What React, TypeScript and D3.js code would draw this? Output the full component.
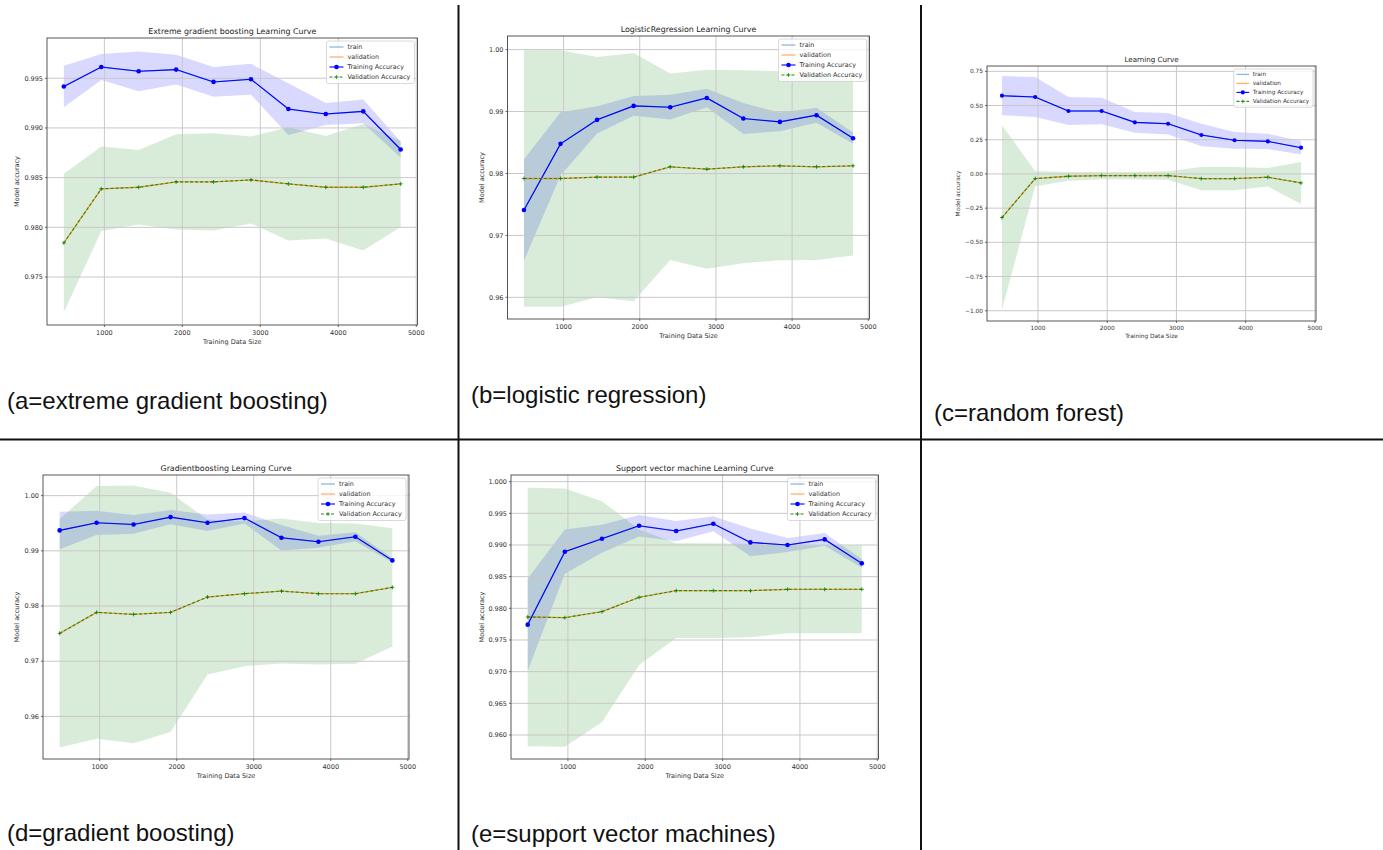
import React from 'react';
import * as d3 from 'd3';

const W = 1383;
const H = 850;
const FONT = 'DejaVu Sans, sans-serif';

const trainSizes = [480, 960, 1440, 1920, 2400, 2880, 3360, 3840, 4320, 4800];
const xTicks = [1000, 2000, 3000, 4000, 5000];

// (a) extreme gradient boosting
const xgbTrainMean = [0.99417, 0.99613, 0.9957, 0.99587, 0.99463, 0.9949, 0.9919, 0.9914, 0.99167, 0.98783];
const xgbTrainStd = [0.0021, 0.0013, 0.002, 0.0015, 0.0015, 0.00155, 0.0026, 0.0011, 0.0012, 0.0008];
const xgbValMean = [0.97843, 0.98387, 0.98403, 0.98457, 0.98457, 0.98477, 0.98437, 0.98403, 0.98403, 0.98437];
const xgbValStd = [0.00697, 0.00425, 0.00375, 0.0048, 0.0049, 0.00438, 0.0057, 0.00515, 0.00637, 0.00435];
const xgbTicks = [0.975, 0.98, 0.985, 0.99, 0.995];

// (b) logistic regression
const lrTrainMean = [0.97409, 0.98478, 0.98866, 0.99091, 0.9907, 0.9922, 0.98887, 0.98833, 0.98941, 0.9857];
const lrTrainStd = [0.0082, 0.0051, 0.0022, 0.0016, 0.002, 0.0015, 0.0025, 0.0015, 0.0012, 0.0009];
const lrValMean = [0.97919, 0.97919, 0.97941, 0.97941, 0.98108, 0.9807, 0.98108, 0.98124, 0.98108, 0.98124];
const lrValStd = [0.0207, 0.0207, 0.0194, 0.02005, 0.01505, 0.01607, 0.01559, 0.01526, 0.01505, 0.0145];
const lrTicks = [0.96, 0.97, 0.98, 0.99, 1.0];

// (c) random forest
const rfTrainMean = [0.572, 0.562, 0.46, 0.46, 0.377, 0.367, 0.285, 0.246, 0.238, 0.192];
const rfTrainStd = [0.143, 0.146, 0.102, 0.097, 0.076, 0.078, 0.082, 0.061, 0.056, 0.049];
const rfValMean = [-0.319, -0.034, -0.017, -0.012, -0.012, -0.012, -0.034, -0.034, -0.024, -0.066];
const rfValStd = [0.674, 0.056, 0.032, 0.027, 0.027, 0.031, 0.085, 0.085, 0.068, 0.154];
const rfTicks = [-1.0, -0.75, -0.5, -0.25, 0.0, 0.25, 0.5, 0.75];

// (d) gradient boosting
const gbTrainMean = [0.9937, 0.99508, 0.99478, 0.99611, 0.99508, 0.99593, 0.99237, 0.99164, 0.99255, 0.98827];
const gbTrainStd = [0.0034, 0.0022, 0.0017, 0.0013, 0.0015, 0.001, 0.0023, 0.0011, 0.0008, 0.0004];
const gbValMean = [0.97505, 0.97885, 0.97849, 0.97885, 0.98163, 0.98223, 0.98271, 0.98223, 0.98223, 0.98338];
const gbValStd = [0.0207, 0.0229, 0.02335, 0.02166, 0.01403, 0.01313, 0.01313, 0.01282, 0.0127, 0.01071];
const gbTicks = [0.96, 0.97, 0.98, 0.99, 1.0];

// (e) support vector machine
const svmTrainMean = [0.97742, 0.98894, 0.99099, 0.99304, 0.9922, 0.99335, 0.99041, 0.98999, 0.99088, 0.9871];
const svmTrainStd = [0.0073, 0.0035, 0.0022, 0.0017, 0.0016, 0.0012, 0.0022, 0.0011, 0.001, 0.0007];
const svmValMean = [0.97863, 0.97853, 0.97947, 0.98174, 0.98279, 0.98279, 0.98279, 0.983, 0.983, 0.983];
const svmValStd = [0.0204, 0.0204, 0.01745, 0.0107, 0.00747, 0.00747, 0.00736, 0.00694, 0.00694, 0.00694];
const svmTicks = [0.96, 0.965, 0.97, 0.975, 0.98, 0.985, 0.99, 0.995, 1.0];

const legendLabels = ['train', 'validation', 'Training Accuracy', 'Validation Accuracy'];

const panels = [
  {
    id: 'a', title: 'Extreme gradient boosting Learning Curve',
    box: [47, 38, 417.5, 325], yDomain: [0.97017, 0.99905], fmt: '.3f', s: 1,
    trainMean: xgbTrainMean, trainStd: xgbTrainStd, valMean: xgbValMean, valStd: xgbValStd, ticks: xgbTicks,
    ylabX: 17,
  },
  {
    id: 'b', title: 'LogisticRegression Learning Curve',
    box: [507.5, 36, 869.5, 319], yDomain: [0.9565, 1.0022], fmt: '.2f', s: 1,
    trainMean: lrTrainMean, trainStd: lrTrainStd, valMean: lrValMean, valStd: lrValStd, ticks: lrTicks,
    ylabX: 482,
  },
  {
    id: 'c', title: 'Learning Curve',
    box: [987, 66, 1316, 321], yDomain: [-1.075, 0.789], fmt: '.2f', s: 0.9,
    trainMean: rfTrainMean, trainStd: rfTrainStd, valMean: rfValMean, valStd: rfValStd, ticks: rfTicks,
    ylabX: 958,
  },
  {
    id: 'd', title: 'Gradientboosting Learning Curve',
    box: [43, 475, 409, 759], yDomain: [0.95228, 1.00374], fmt: '.2f', s: 1,
    trainMean: gbTrainMean, trainStd: gbTrainStd, valMean: gbValMean, valStd: gbValStd, ticks: gbTicks,
    ylabX: 17,
  },
  {
    id: 'e', title: 'Support vector machine Learning Curve',
    box: [511, 475, 878.5, 759], yDomain: [0.95621, 1.00105], fmt: '.3f', s: 1,
    trainMean: svmTrainMean, trainStd: svmTrainStd, valMean: svmValMean, valStd: svmValStd, ticks: svmTicks,
    ylabX: 482,
  },
];

const captions = [
  { text: '(a=extreme gradient boosting)', x: 7, y: 409 },
  { text: '(b=logistic regression)', x: 471, y: 403 },
  { text: '(c=random forest)', x: 934, y: 421 },
  { text: '(d=gradient boosting)', x: 7, y: 841 },
  { text: '(e=support vector machines)', x: 471, y: 842 },
];

function Panel({ p }: { p: any }) {
  const [left, top, right, bottom] = p.box;
  const s = p.s;
  const x = d3.scaleLinear().domain([264, 5016]).range([left, right]);
  const y = d3.scaleLinear().domain(p.yDomain).range([bottom, top]);
  const fmt = d3.format(p.fmt);

  const band = (mean: number[], std: number[]) =>
    d3.area<number>()
      .x((_, i) => x(trainSizes[i]))
      .y0((m, i) => y(m - std[i]))
      .y1((m, i) => y(m + std[i]))(mean) || '';
  const line = (mean: number[]) =>
    d3.line<number>().x((_, i) => x(trainSizes[i])).y((m) => y(m))(mean) || '';

  const clipId = `clip-${p.id}`;
  const tickFs = 6.5 * s;
  const legFs = 6.4 * s;
  const legW = 88 * s;
  const legRow = 10 * s;
  const legX = right - 3 - legW;
  const legY = top + 3;

  return (
    <g>
      <defs>
        <clipPath id={clipId}>
          <rect x={left} y={top} width={right - left} height={bottom - top} />
        </clipPath>
      </defs>
      <g clipPath={`url(#${clipId})`}>
        <path d={band(p.trainMean, p.trainStd)} fill="#0000ff" fillOpacity={0.15} />
        <path d={band(p.valMean, p.valStd)} fill="#008000" fillOpacity={0.15} />
        {xTicks.map((t) => (
          <line key={'gx' + t} x1={x(t)} x2={x(t)} y1={top} y2={bottom} stroke="#c8c8c8" strokeWidth={1} />
        ))}
        {p.ticks.map((t: number) => (
          <line key={'gy' + t} x1={left} x2={right} y1={y(t)} y2={y(t)} stroke="#c8c8c8" strokeWidth={1} />
        ))}
        <path d={line(p.trainMean)} fill="none" stroke="#1f77b4" strokeOpacity={0.5} strokeWidth={1.3} />
        <path d={line(p.valMean)} fill="none" stroke="#ff7f0e" strokeOpacity={0.8} strokeWidth={1.3} />
        <path d={line(p.trainMean)} fill="none" stroke="#0000ff" strokeWidth={1.1} />
        {p.trainMean.map((m: number, i: number) => (
          <circle key={'tm' + i} cx={x(trainSizes[i])} cy={y(m)} r={2.3 * s} fill="#0000ff" />
        ))}
        <path d={line(p.valMean)} fill="none" stroke="#2a8a1a" strokeWidth={1.1} strokeDasharray="3,2" />
        {p.valMean.map((m: number, i: number) => {
          const cx = x(trainSizes[i]);
          const cy = y(m);
          return (
            <g key={'vm' + i} stroke="#008000" strokeWidth={0.8}>
              <line x1={cx - 2} x2={cx + 2} y1={cy} y2={cy} />
              <line x1={cx} x2={cx} y1={cy - 2} y2={cy + 2} />
            </g>
          );
        })}
      </g>
      <rect x={left} y={top} width={right - left} height={bottom - top} fill="none" stroke="#444" strokeWidth={0.9} />
      {xTicks.map((t) => (
        <g key={'xt' + t}>
          <line x1={x(t)} x2={x(t)} y1={bottom} y2={bottom + 2} stroke="#444" strokeWidth={0.8} />
          <text x={x(t)} y={bottom + 8 * s} dy="0.35em" textAnchor="middle" fontSize={tickFs} fill="#333" fontFamily={FONT}>
            {t}
          </text>
        </g>
      ))}
      {p.ticks.map((t: number) => (
        <g key={'yt' + t}>
          <line x1={left - 2} x2={left} y1={y(t)} y2={y(t)} stroke="#444" strokeWidth={0.8} />
          <text x={left - 4} y={y(t)} dy="0.35em" textAnchor="end" fontSize={tickFs} fill="#333" fontFamily={FONT}>
            {fmt(t)}
          </text>
        </g>
      ))}
      <text x={(left + right) / 2} y={top - 7 * s} dy="0.35em" textAnchor="middle" fontSize={7.9 * s} fill="#222" fontFamily={FONT}>
        {p.title}
      </text>
      <text x={(left + right) / 2} y={bottom + 17 * s} dy="0.35em" textAnchor="middle" fontSize={tickFs} fill="#333" fontFamily={FONT}>
        Training Data Size
      </text>
      <text
        transform={`translate(${p.ylabX},${(top + bottom) / 2}) rotate(-90)`}
        dy="0.35em" textAnchor="middle" fontSize={tickFs} fill="#333" fontFamily={FONT}
      >
        Model accuracy
      </text>
      <g>
        <rect x={legX} y={legY} width={legW} height={legRow * 4 + 2.5 * s} rx={2} fill="#fff" fillOpacity={0.8} stroke="#d0d0d0" strokeWidth={0.8} />
        {legendLabels.map((lab, i) => {
          const ry = legY + 6 * s + i * legRow;
          const hx0 = legX + 3 * s;
          const hx1 = legX + 17 * s;
          const hm = (hx0 + hx1) / 2;
          return (
            <g key={lab}>
              {i === 0 && <line x1={hx0} x2={hx1} y1={ry} y2={ry} stroke="#1f77b4" strokeOpacity={0.5} strokeWidth={1.3} />}
              {i === 1 && <line x1={hx0} x2={hx1} y1={ry} y2={ry} stroke="#ff7f0e" strokeOpacity={0.6} strokeWidth={1.3} />}
              {i === 2 && (
                <g>
                  <line x1={hx0} x2={hx1} y1={ry} y2={ry} stroke="#0000ff" strokeWidth={1.1} />
                  <circle cx={hm} cy={ry} r={2.3 * s} fill="#0000ff" />
                </g>
              )}
              {i === 3 && (
                <g stroke="#2a8a1a">
                  <line x1={hx0} x2={hx1} y1={ry} y2={ry} strokeWidth={1.1} strokeDasharray="3,2" />
                  <line x1={hm - 2} x2={hm + 2} y1={ry} y2={ry} strokeWidth={0.8} />
                  <line x1={hm} x2={hm} y1={ry - 2} y2={ry + 2} strokeWidth={0.8} />
                </g>
              )}
              <text x={legX + 21 * s} y={ry} dy="0.35em" fontSize={legFs} fill="#333" fontFamily={FONT}>
                {lab}
              </text>
            </g>
          );
        })}
      </g>
    </g>
  );
}

export default function App() {
  return (
    <svg width={W} height={H} style={{ position: 'absolute', left: 0, top: 0, background: '#fff' }}>
      <rect x={0} y={0} width={W} height={H} fill="#fff" />
      {panels.map((p) => (
        <Panel key={p.id} p={p} />
      ))}
      {captions.map((c) => (
        <text key={c.text} x={c.x} y={c.y} fontSize={24} fill="#111" fontFamily="Liberation Sans, Arial, sans-serif">
          {c.text}
        </text>
      ))}
      <line x1={458.5} x2={458.5} y1={5} y2={H} stroke="#111" strokeWidth={2} />
      <line x1={921} x2={921} y1={5} y2={H} stroke="#111" strokeWidth={2} />
      <line x1={0} x2={W} y1={439.5} y2={439.5} stroke="#111" strokeWidth={2} />
    </svg>
  );
}
